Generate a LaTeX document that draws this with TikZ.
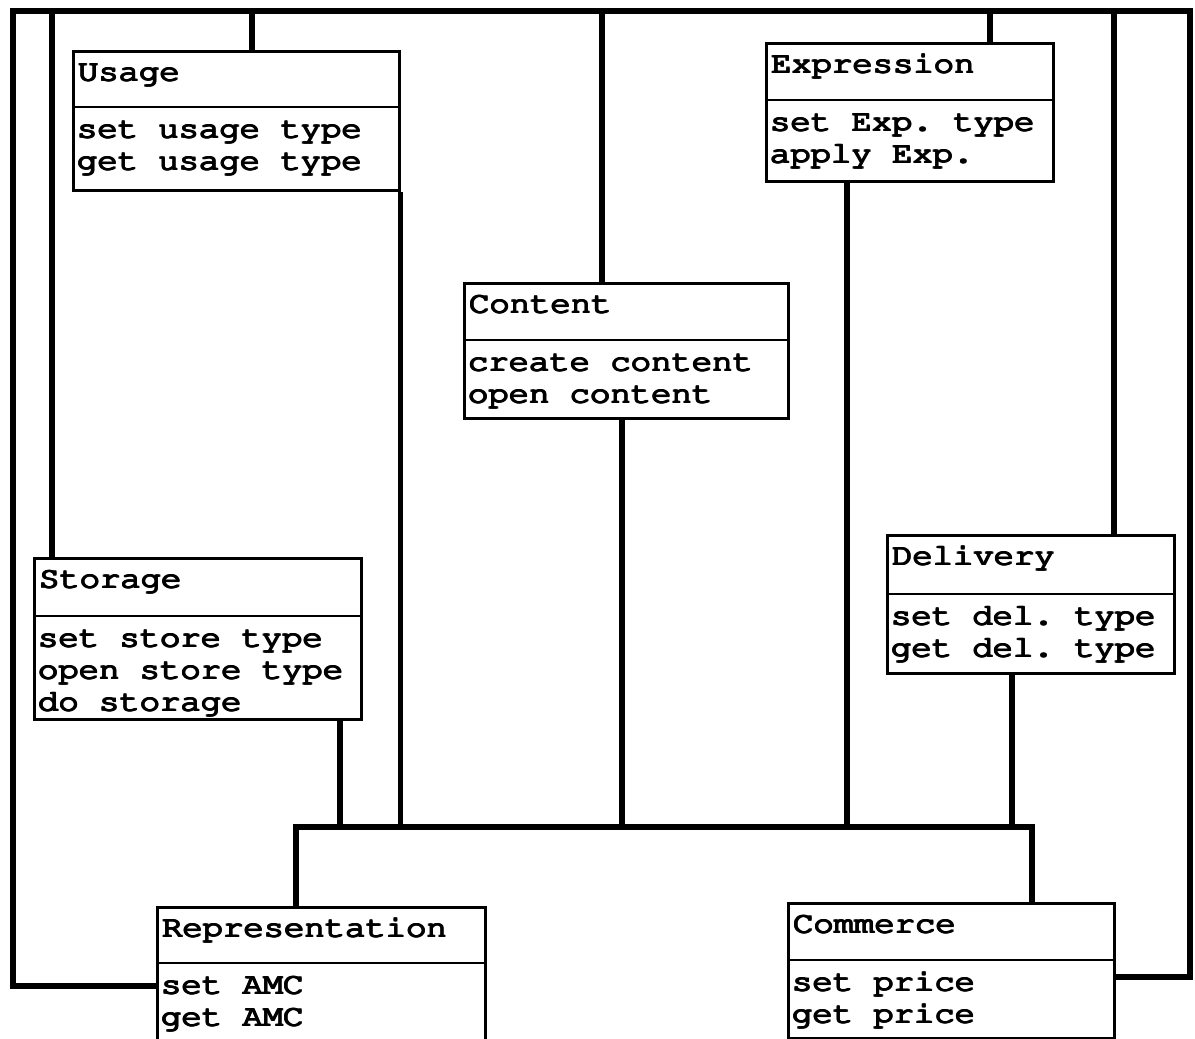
\documentclass[tikz,border=0pt]{standalone}
\usepackage[T1]{fontenc}
\usepackage{graphicx}
\usetikzlibrary{calc}

% Courier, widened slightly and thickened by several offset prints
\newcommand\cour{\fontencoding{T1}\fontfamily{pcr}\fontseries{m}\fontshape{n}\fontsize{30}{32}\selectfont\frenchspacing}
\newcommand\ct[1]{\scalebox{1.13}[1]{\cour
  \rlap{#1}\rlap{\raisebox{0.9pt}{#1}}\hspace{0.8pt}%
  \rlap{#1}\rlap{\raisebox{0.9pt}{#1}}\hspace{0.8pt}%
  \rlap{\raisebox{0.45pt}{#1}}#1}}

\tikzset{
  classbox/.style={draw, line width=2.7pt, rectangle, inner sep=0pt, fill=white},
  divline/.style={line width=2.7pt},
  conn/.style={line width=5.5pt, line join=miter},
  txt/.style={inner sep=0pt, anchor=base west},
}

% #1 name, #2 x, #3 y, #4 width, #5 height, #6 divider offset, #7 title
\newcommand\umlclass[7]{%
  \node[classbox, minimum width=#4pt, minimum height=#5pt, anchor=north west] (#1) at (#2,#3) {};
  \draw[divline] ($(#1.north west)+(0,#6)$) -- ($(#1.north east)+(0,#6)$);
  \node[txt] (#1-title) at ($(#1.north west)+(5,31)$) {\ct{#7}};
}
% #1 class name, #2 line index, #3 divider offset, #4 text
\newcommand\umlop[4]{%
  \node[txt] (#1-op#2) at ($(#1.north west)+(4,#3+31+32*#2-32)$) {\ct{#4}};
}

\begin{document}
\begin{tikzpicture}[x=1pt,y=-1pt]
\useasboundingbox (0,0) rectangle (1195,1039);
\fill[white] (0,0) rectangle (1195,1039);
\clip (0,0) rectangle (1195,1039);

% frame corners and bus ends
\coordinate (tl) at (13,11);
\coordinate (tr) at (1190,11);
\coordinate (busL) at (296,827);
\coordinate (busR) at (1032,827);

% classes
\umlclass{usage}{72}{50}{326}{139}{57}{Usage}
\umlop{usage}{1}{57}{set usage type}
\umlop{usage}{2}{57}{get usage type}

\umlclass{expr}{765}{42}{287}{138}{58}{Expression}
\umlop{expr}{1}{58}{set Exp. type}
\umlop{expr}{2}{58}{apply Exp.}

\umlclass{content}{463}{282}{324}{135}{58}{Content}
\umlop{content}{1}{58}{create content}
\umlop{content}{2}{58}{open content}

\umlclass{storage}{33}{557}{327}{161}{59}{Storage}
\umlop{storage}{1}{59}{set store type}
\umlop{storage}{2}{59}{open store type}
\umlop{storage}{3}{59}{do storage}

\umlclass{delivery}{886}{534}{287}{138}{60}{Delivery}
\umlop{delivery}{1}{60}{set del. type}
\umlop{delivery}{2}{60}{get del. type}

\umlclass{rep}{156}{906}{328}{170}{57}{Representation}
\umlop{rep}{1}{57}{set AMC}
\umlop{rep}{2}{57}{get AMC}

\umlclass{com}{787}{902}{326}{135}{58}{Commerce}
\umlop{com}{1}{58}{set price}
\umlop{com}{2}{58}{get price}

% attachment points on the boxes
\coordinate (uT) at ($(usage.north west)+(180,0)$);
\coordinate (cT) at ($(content.north west)+(139,0)$);
\coordinate (cB) at ($(content.south west)+(159,0)$);
\coordinate (eT) at ($(expr.north west)+(225,0)$);
\coordinate (eB) at ($(expr.south west)+(82,0)$);
\coordinate (sT) at ($(storage.north west)+(19,0)$);
\coordinate (sB) at ($(storage.south west)+(307,0)$);
\coordinate (dT) at ($(delivery.north west)+(228,0)$);
\coordinate (dB) at ($(delivery.south west)+(126,0)$);
\coordinate (rL) at ($(rep.north west)+(0,80)$);
\coordinate (mR) at ($(com.north east)+(0,75)$);

% outer frame, closed through Representation and Commerce
\draw[conn] (rL) -- (rL -| tl) -- (tl) -- (tr) -- (tr |- mR) -- (mR);

% links from the top line
\draw[conn] (uT) -- (uT |- tl);
\draw[conn] (cT) -- (cT |- tl);
\draw[conn] (eT) -- (eT |- tl);
\draw[conn] (sT) -- (sT |- tl);
\draw[conn] (dT) -- (dT |- tl);

% bus joining Representation and Commerce
\draw[conn] (rep.north -| busL) -- (busL) -- (busR) -- (com.north -| busR);

% links down to the bus
\draw[conn] (usage.south east) -- (usage.south east |- busL);
\draw[conn] (sB) -- (sB |- busL);
\draw[conn] (cB) -- (cB |- busL);
\draw[conn] (eB) -- (eB |- busL);
\draw[conn] (dB) -- (dB |- busL);
\end{tikzpicture}
\end{document}
